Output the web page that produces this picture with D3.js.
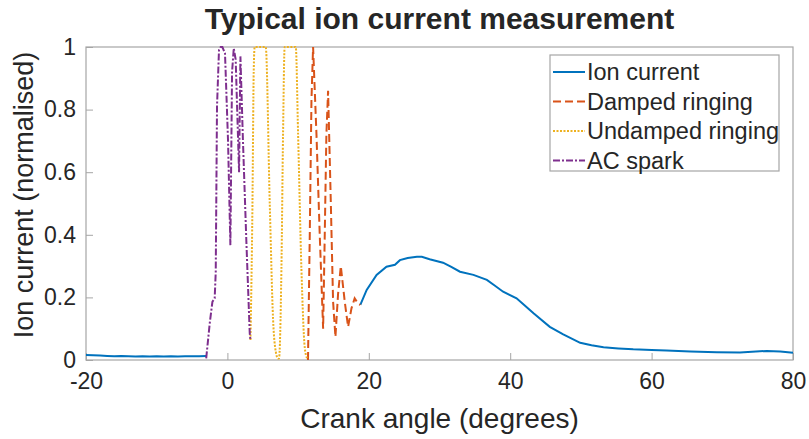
<!DOCTYPE html>
<html>
<head>
<meta charset="utf-8">
<script src="https://cdn.jsdelivr.net/npm/d3@7"></script>
<style>
body { margin: 0; background: #fff; }
text { font-family: "Liberation Sans", Arial, sans-serif; fill: #262626; }
</style>
</head>
<body>
<svg id="IonChart"></svg>
<script>
// ion current, before the spark (degrees / normalised)
var ionAngleA = [-20,-19,-18,-17,-16,-15,-14,-13,-12,-11,-10,-9,-8,-7,-6,-5,-4,-3];
var ionValueA = [0.016,0.015,0.014,0.013,0.012,0.013,0.012,0.011,0.012,0.011,0.012,0.011,0.012,0.011,0.012,0.012,0.012,0.013];
// ion current, after the ringing
var ionAngleB = [18.8,19.7,21.1,22.5,23.7,24.4,25.5,26.8,27.5,28.6,30.5,31.6,32.9,34.8,36.7,37.8,39.0,40.9,42.1,43.3,45.6,47.5,49.9,51.5,53.2,55.3,57.4,60.0,62.1,65.5,69.2,72.5,76.3,78.2,80];
var ionValueB = [0.176,0.224,0.272,0.298,0.304,0.319,0.326,0.33,0.33,0.322,0.311,0.298,0.282,0.272,0.256,0.238,0.218,0.197,0.173,0.149,0.106,0.082,0.055,0.047,0.041,0.037,0.034,0.032,0.03,0.027,0.025,0.024,0.029,0.027,0.023];
// AC spark
var sparkAngle = [-3.0,-2.5,-2.12,-1.8,-1.65,-1.47,-1.19,-0.95,-0.71,-0.34,0.09,0.42,0.66,0.9,1.17,1.65,1.84,2.2,2.68,3.16,3.26];
var sparkValue = [0.005,0.117,0.186,0.197,0.28,0.81,0.99,1.0,1.0,0.98,0.70,0.367,0.92,0.996,0.96,0.6,0.97,0.70,0.38,0.086,0.064];
// undamped ringing
var undampedAngle = [3.26,3.54,3.72,3.86,4.3,5.0,5.42,5.99,6.46,6.84,7.16,7.3,7.64,7.87,8.1,8.6,9.2,9.67,10.0,10.47,10.94,11.27];
var undampedValue = [0.064,0.49,0.92,1.0,1.0,1.0,1.0,0.5,0.13,0.027,0.005,0.005,0.29,0.72,1.0,1.0,1.0,1.0,0.72,0.29,0.04,0.005];
// damped ringing
var dampedAngle = [11.4,11.65,11.89,12.12,12.6,13.06,13.54,13.77,14.0,14.24,14.62,14.95,15.28,15.65,16.04,16.6,17.07,17.55,18.0,18.49,18.8];
var dampedValue = [0.0,0.4,0.83,1.0,0.72,0.4,0.1,0.4,0.72,0.86,0.51,0.186,0.074,0.21,0.30,0.186,0.106,0.165,0.197,0.18,0.176];

var xTicks = [-20,0,20,40,60,80];
var yTicks = [0,0.2,0.4,0.6,0.8,1];
var seriesNames = ["Ion current","Damped ringing","Undamped ringing","AC spark"];

var zipUp = function(xs,ys)
{
    return xs.map(function(x,i){ return {x:x, y:ys[i]}; });
}

var screen = {width:809, height:439};
var margins = {left:86, right:16, top:47, bottom:79};
var graph = {
    width: screen.width-margins.left-margins.right,
    height: screen.height-margins.top-margins.bottom
};

var svg = d3.select("#IonChart")
    .attr("width",screen.width)
    .attr("height",screen.height);

var target = svg.append("g")
    .attr("transform","translate("+margins.left+","+margins.top+")");

var xScale = d3.scaleLinear().domain([-20,80]).range([0,graph.width]);
var yScale = d3.scaleLinear().domain([0,1]).range([graph.height,0]);

// axes, MATLAB style ticks pointing in
var xAxis = d3.axisBottom(xScale).tickValues(xTicks).tickSize(-7).tickPadding(12)
    .tickFormat(function(d){ return d<0 ? "-"+Math.abs(d) : d; });
var yAxis = d3.axisLeft(yScale).tickValues(yTicks).tickSize(-7).tickPadding(10)
    .tickFormat(function(d){ return d; });

var gx = target.append("g")
    .attr("transform","translate(0,"+graph.height+")")
    .call(xAxis);
var gy = target.append("g").call(yAxis);

[gx,gy].forEach(function(g){
    g.select(".domain").remove();
    g.selectAll("line").attr("stroke","#a6a6a6");
    g.selectAll("text").style("font-size","23px").attr("fill","#262626");
});
gx.selectAll("text").attr("dy","0.72em");

// box
target.append("rect")
    .attr("x",0).attr("y",0)
    .attr("width",graph.width).attr("height",graph.height)
    .attr("fill","none").attr("stroke","#a6a6a6").attr("stroke-width",1.2);

var line = d3.line()
    .x(function(d){ return xScale(d.x); })
    .y(function(d){ return yScale(d.y); });

var plot = target.append("g");

var styles = [
    {color:"#0072BD", dash:null},
    {color:"#D95319", dash:"8,4"},
    {color:"#EDB120", dash:"2,1.5"},
    {color:"#7E2F8E", dash:"7,2,2,2"}
];

plot.append("path").datum(zipUp(ionAngleA,ionValueA))
    .attr("d",line).attr("fill","none")
    .attr("stroke",styles[0].color).attr("stroke-width",2);
plot.append("path").datum(zipUp(ionAngleB,ionValueB))
    .attr("d",line).attr("fill","none")
    .attr("stroke",styles[0].color).attr("stroke-width",2);
plot.append("path").datum(zipUp(dampedAngle,dampedValue))
    .attr("d",line).attr("fill","none")
    .attr("stroke",styles[1].color).attr("stroke-width",2)
    .attr("stroke-dasharray",styles[1].dash);
plot.append("path").datum(zipUp(undampedAngle,undampedValue))
    .attr("d",line.curve(d3.curveMonotoneX)).attr("fill","none")
    .attr("stroke",styles[2].color).attr("stroke-width",2)
    .attr("stroke-dasharray",styles[2].dash);
line.curve(d3.curveLinear);
plot.append("path").datum(zipUp(sparkAngle,sparkValue))
    .attr("d",line).attr("fill","none")
    .attr("stroke",styles[3].color).attr("stroke-width",2)
    .attr("stroke-dasharray",styles[3].dash);

// legend
var legend = svg.append("g").attr("transform","translate(550,55)");
legend.append("rect")
    .attr("width",229).attr("height",116)
    .attr("fill","#fff").attr("stroke","#a6a6a6").attr("stroke-width",1.2);
var rows = legend.selectAll("g.row")
    .data(seriesNames)
    .enter()
    .append("g")
    .attr("transform",function(d,i){ return "translate(0,"+(17+i*29.5)+")"; });
rows.append("line")
    .attr("x1",3).attr("x2",35)
    .attr("stroke",function(d,i){ return styles[i].color; })
    .attr("stroke-width",2)
    .attr("stroke-dasharray",function(d,i){ return styles[i].dash; });
rows.append("text")
    .attr("x",37).attr("dy","0.35em")
    .style("font-size","23.5px")
    .text(function(d){ return d; });

// labels
svg.append("text")
    .text("Typical ion current measurement")
    .attr("x",margins.left+graph.width/2).attr("y",29)
    .attr("text-anchor","middle")
    .style("font-size","30px").style("font-weight","bold").attr("fill","#000");

svg.append("text")
    .text("Crank angle (degrees)")
    .attr("x",margins.left+graph.width/2).attr("y",428)
    .attr("text-anchor","middle")
    .style("font-size","28px");

svg.append("g")
    .attr("transform","translate(24,195)")
    .append("text")
    .text("Ion current (normalised)")
    .attr("text-anchor","middle")
    .attr("dy","0.35em")
    .attr("transform","rotate(270)")
    .style("font-size","27px");
</script>
</body>
</html>
